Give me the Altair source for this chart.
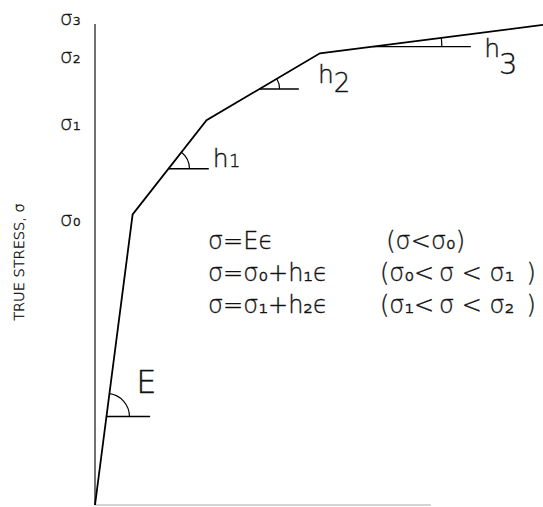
import altair as alt
import numpy as np
import pandas as pd

# Piecewise-linear true stress / strain curve (arbitrary units)
strain_pts = [0.0, 8.4, 24.9, 50.2, 100.0]
stress_pts = [0.0, 60.4, 80.0, 93.9, 99.8]

# Stress-axis labels
tick_labels = ["σ₀", "σ₁", "σ₂", "σ₃"]
tick_stress = [59.3, 79.3, 93.2, 101.0]

# Slope markers: stress level of the horizontal reference and its end strain
slope_main = ["E", "h", "h", "h"]
slope_sub = ["", "1", "2", "3"]
slope_stress = [18.4, 69.9, 86.5, 95.3]
slope_end = [12.3, 25.4, 45.5, 83.9]

# Constitutive equations
eq_left = ["σ=Eϵ", "σ=σ₀+h₁ϵ", "σ=σ₁+h₂ϵ"]
eq_right = ["(σ<σ₀)", "(σ₀<\u2009σ < σ₁\u2002)", "(σ₁<\u2009σ < σ₂\u2002)"]

W, H = 448, 481
XMAX, YMAX = 100.0, 100.0
FONT = "DejaVu Sans"
INK = "#000000"
TXT = "#111111"
TXT_STYLE = dict(font=FONT, color=TXT, fontWeight=200, stroke=TXT, strokeWidth=0.35)

xs = alt.Scale(domain=[0, XMAX], nice=False, zero=False)
ys = alt.Scale(domain=[0, YMAX], nice=False, zero=False)
X = lambda f: alt.X(f, type="quantitative", scale=xs, axis=None)
Y = lambda f: alt.Y(f, type="quantitative", scale=ys, axis=None)

curve = pd.DataFrame({"strain": strain_pts, "stress": stress_pts, "i": range(len(strain_pts))})
line = alt.Chart(curve).mark_line(color=INK, strokeWidth=1.8, clip=False).encode(
    x=X("strain"), y=Y("stress"), order="i:Q"
)

# Axis lines
yaxis = alt.Chart(pd.DataFrame({"x": [0], "y0": [0], "y1": [YMAX]})).mark_rule(
    color="#222222", strokeWidth=1.3
).encode(x=X("x"), y=Y("y0"), y2="y1")
xaxis = alt.Chart(pd.DataFrame({"x0": [0], "x1": [75.0], "y": [0]})).mark_rule(
    color="#aaaaaa", strokeWidth=1.2
).encode(x=X("x0"), x2="x1", y=Y("y"))

ticks = alt.Chart(pd.DataFrame({"lab": tick_labels, "stress": tick_stress, "x": -7.8})).mark_text(
    fontSize=20, align="left", baseline="middle", **TXT_STYLE
).encode(x=X("x"), y=Y("stress"), text="lab:N")

ytitle = alt.Chart(pd.DataFrame({"t": ["TRUE STRESS, σ"], "x": [-16.7], "y": [50.5]})).mark_text(
    fontSize=14.5, angle=270, align="center", baseline="middle", **TXT_STYLE
).encode(x=X("x"), y=Y("y"), text="t:N")

# Slope markers: horizontal reference line, angle arc and label
vx = np.interp(slope_stress, stress_pts, strain_pts)
seg = [int(np.searchsorted(stress_pts, s)) - 1 for s in slope_stress]
px, py = W / XMAX, H / YMAX
alpha = [
    float(np.arctan2((stress_pts[k + 1] - stress_pts[k]) * py, (strain_pts[k + 1] - strain_pts[k]) * px))
    for k in seg
]
arc_r = [23, 21, 20, 69]
lab_pos = [(9.2, 23.3), (26.3, 70.3), (49.8, 87.7), (86.9, 93.1)]
sub_pos = [(0, 0), (29.9, 70.3), (53.3, 85.9), (90.2, 89.7)]
sub_size = [0, 18, 26, 29]

layers = [xaxis, yaxis, line]
for i in range(len(slope_main)):
    d = pd.DataFrame({"x0": [vx[i]], "x1": [slope_end[i]], "y": [slope_stress[i]]})
    layers.append(
        alt.Chart(d).mark_rule(color=INK, strokeWidth=1.4).encode(x=X("x0"), x2="x1", y=Y("y"))
    )
    layers.append(
        alt.Chart(d).mark_arc(
            radius=arc_r[i], radius2=arc_r[i], theta=np.pi / 2 - alpha[i], theta2=np.pi / 2,
            fillOpacity=0, stroke=INK, strokeWidth=1.2
        ).encode(x=X("x0"), y=Y("y"))
    )
    lx, ly = lab_pos[i]
    big = 32 if slope_main[i] == "E" else 25
    layers.append(
        alt.Chart(pd.DataFrame({"t": [slope_main[i]], "x": [lx], "y": [ly]})).mark_text(
            fontSize=big, align="left", baseline="alphabetic", **TXT_STYLE
        ).encode(x=X("x"), y=Y("y"), text="t:N")
    )
    if slope_sub[i]:
        sx, sy = sub_pos[i]
        layers.append(
            alt.Chart(pd.DataFrame({"t": [slope_sub[i]], "x": [sx], "y": [sy]})).mark_text(
                fontSize=sub_size[i], align="left", baseline="alphabetic", **TXT_STYLE
            ).encode(x=X("x"), y=Y("y"), text="t:N")
        )

eq_rows = [53.2, 46.6, 39.9]
eqs = pd.DataFrame({
    "t": eq_left + eq_right,
    "x": [25.2] * 3 + [65.0, 63.6, 63.6],
    "y": eq_rows * 2,
})
layers.append(
    alt.Chart(eqs).mark_text(
        fontSize=24, align="left", baseline="alphabetic", **TXT_STYLE
    ).encode(x=X("x"), y=Y("y"), text="t:N")
)
layers += [ticks, ytitle]

chart = alt.layer(*layers).properties(
    width=W, height=H,
    autosize=alt.AutoSizeParams(type="none"),
    padding={"left": 95, "top": 24, "right": 0, "bottom": 2},
    background="white",
).configure_view(stroke=None)

chart.save("out.html", embed_options={"renderer": "svg", "actions": False})
